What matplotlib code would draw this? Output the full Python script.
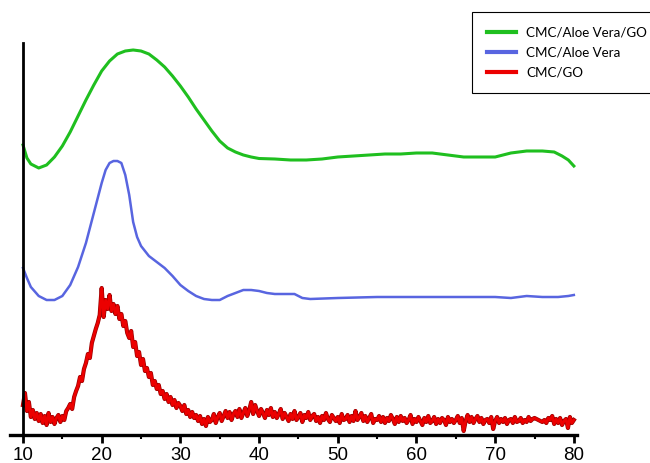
import matplotlib
matplotlib.use('Agg')
import matplotlib.pyplot as plt
import numpy as np

# XRD patterns, intensity in arbitrary units (stacked, offset already applied)
green_2theta = [10, 10.5, 11, 12, 13, 14, 15, 16, 17, 18, 19, 20, 21, 22, 23, 24, 25,
                26, 27, 28, 29, 30, 31, 32, 33, 34, 35, 36, 37, 38, 39, 40, 42, 44,
                46, 48, 50, 52, 54, 56, 58, 60, 62, 64, 66, 68, 70, 71, 72, 74, 76,
                77.5, 78.5, 79.3, 80]
green_int = [290, 277, 271, 267, 270, 278, 289, 303, 319, 335, 350, 364, 374, 381, 384,
             385, 384, 381, 375, 368, 359, 349, 338, 326, 315, 304, 294, 287, 283, 280,
             278, 276.5, 276, 275, 275, 276, 278, 279, 280, 281, 281, 282, 282, 280, 278,
             278, 278, 280, 282, 284, 284, 283, 279, 275, 269]

blue_2theta = [10, 10.5, 11, 12, 13, 14, 15, 16, 17, 18, 19, 20, 20.5, 21, 21.5, 22,
               22.5, 23, 23.5, 24, 24.5, 25, 26, 27, 28, 29, 30, 31, 32, 33, 34, 35, 36,
               37, 38, 39, 40, 41, 42, 43.5, 44.5, 45.5, 46.5, 50, 55, 60, 65, 70, 72,
               74, 76, 78, 79.3, 80]
blue_int = [167, 157, 148, 139, 135, 135, 139, 150, 168, 192, 222, 252, 265, 272, 274,
            274, 272, 260, 240, 213, 198, 189, 179, 173, 167, 159, 150, 144, 139, 136,
            135, 135, 139, 142, 145, 145, 144, 142, 141, 141, 141, 137, 136, 137, 138,
            138, 138, 138, 137, 139, 138, 138, 139, 140]

red_2theta = np.arange(10, 80.25, 0.25)
red_int = [
    30, 42, 24, 33, 18, 25, 16, 22, 14, 21, 12, 19, 10, 22, 13, 18,
    11, 17, 20, 13, 19, 15, 24, 27, 31, 26, 38, 44, 49, 58, 54, 66,
    72, 81, 77, 92, 99, 106, 112, 120, 147, 118, 135, 126, 140, 124, 131, 121,
    129, 116, 121, 109, 114, 102, 97, 104, 88, 93, 79, 83, 70, 76, 64, 67,
    58, 62, 50, 54, 46, 50, 41, 44, 36, 41, 33, 38, 30, 35, 27, 32,
    29, 24, 30, 21, 25, 18, 23, 17, 20, 14, 19, 11, 16, 9, 18, 13,
    15, 21, 12, 18, 22, 14, 19, 24, 17, 23, 15, 21, 24, 18, 26, 17,
    22, 27, 19, 25, 33, 21, 30, 24, 19, 26, 22, 17, 25, 20, 27, 18,
    23, 17, 21, 26, 16, 22, 18, 14, 21, 16, 24, 15, 18, 22, 13, 20,
    17, 23, 15, 19, 21, 14, 18, 12, 19, 15, 22, 16, 13, 20, 17, 14,
    18, 12, 21, 15, 16, 20, 13, 19, 14, 24, 15, 18, 22, 14, 19, 13,
    17, 21, 12, 16, 15, 19, 13, 18, 12, 17, 14, 20, 16, 11, 18, 13,
    19, 14, 17, 12, 15, 20, 11, 16, 13, 18, 14, 10, 17, 13, 19, 12,
    14, 18, 11, 16, 12, 17, 15, 10, 18, 13, 16, 12, 15, 19, 12, 17,
    4, 14, 20, 13, 18, 12, 16, 19, 13, 17, 11, 15, 16, 12, 18, 6,
    14, 18, 12, 16, 13, 17, 11, 15, 16, 12, 18, 13, 14, 17, 12, 15,
    13, 18, 14, 16, 17, 16, 15, 14, 13, 15, 12, 17, 15, 19, 11, 16,
    12, 17, 10, 14, 16, 7, 18, 12, 15]

labels = ['CMC/Aloe Vera/GO', 'CMC/Aloe Vera', 'CMC/GO']
xticks = [10, 20, 30, 40, 50, 60, 70, 80]

fig = plt.figure(figsize=(6.5, 4.63), dpi=100)
ax = fig.add_axes([10 / 650, 28 / 463, 567 / 650, 392 / 463])

ax.plot(green_2theta, green_int, color='#1fbf1f', lw=2.2, label=labels[0])
ax.plot(blue_2theta, blue_int, color='#5865e0', lw=1.8, label=labels[1])
# dark outline under the noisy red trace
ax.plot(red_2theta, red_int, color='#9a0000', lw=3.0)
ax.plot(red_2theta, red_int, color='#ec0000', lw=2.0, label=labels[2])

ax.set_xlim(8.35, 80.4)
ax.set_ylim(0, 392)
ax.spines['left'].set_position(('data', 10))
ax.spines['left'].set_linewidth(2.0)
ax.spines['bottom'].set_linewidth(2.4)
ax.spines['top'].set_visible(False)
ax.spines['right'].set_visible(False)
ax.set_yticks([])
ax.set_xticks(xticks)
ax.set_xticks(np.arange(15, 80, 10), minor=True)
ax.tick_params(axis='x', which='major', direction='out', length=6, width=2,
               labelsize=13.5, pad=3)
ax.tick_params(axis='x', which='minor', direction='out', length=3, width=1.5)
for t in ax.get_xticklabels():
    t.set_fontfamily('Liberation Sans')

leg = fig.legend(loc='upper left', bbox_to_anchor=(472 / 650, 1 - 12 / 463),
                 prop={'family': 'Lato', 'size': 9.6}, handlelength=2.2,
                 handletextpad=0.75, borderpad=1.1, labelspacing=0.6,
                 fancybox=False, framealpha=1, borderaxespad=0)
leg.get_frame().set_edgecolor('black')
leg.get_frame().set_linewidth(0.8)
for h in leg.get_lines():
    h.set_linewidth(3)

fig.savefig('out.png', dpi=100)
